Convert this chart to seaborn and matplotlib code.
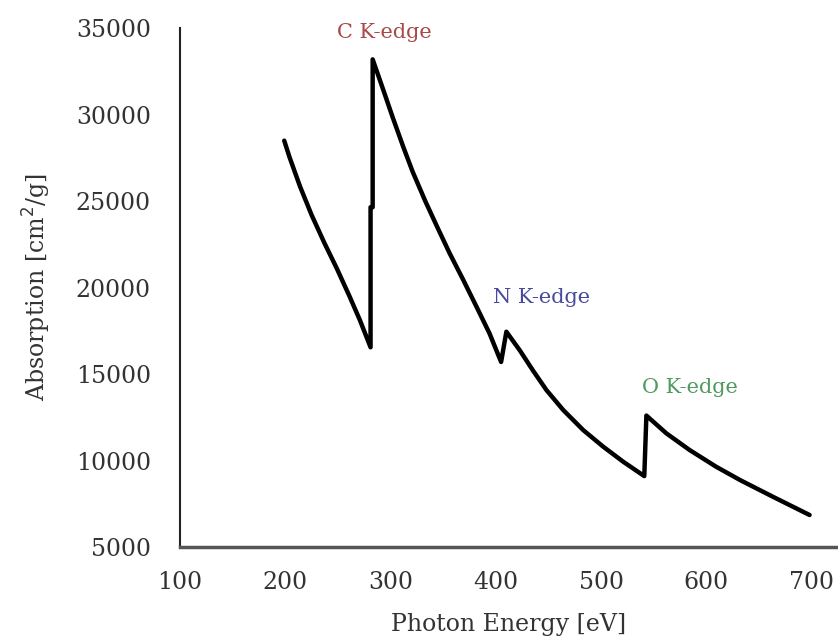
import matplotlib
matplotlib.use("Agg")
import matplotlib.pyplot as plt
import pandas as pd
import seaborn as sns

# values (eV, cm^2/g)
energy = [199, 204, 214, 225, 237, 249, 261, 271, 281,
          281, 283, 283,
          293, 302, 312, 321, 333, 344, 356, 369, 382, 394, 405,
          410, 423, 435, 448, 464, 483, 502, 521, 541,
          543, 562, 584, 609, 632, 663, 698]
absorption = [28500, 27550, 25850, 24200, 22600, 21100, 19500, 18100, 16550,
              24650, 24650, 33200,
              31450, 29850, 28150, 26700, 25000, 23550, 22000, 20450, 18850,
              17350, 15700,
              17450, 16350, 15230, 14080, 12920, 11760, 10800, 9930, 9100,
              12600, 11570, 10610, 9650, 8870, 7910, 6850]

edge_labels = ["C K-edge", "N K-edge", "O K-edge"]
edge_label_x = [294, 443, 584]
edge_label_y = [34750, 19400, 14250]
edge_colors = ["#a84848", "#4a4a9c", "#4f9a5f"]

x_ticks = [100, 200, 300, 400, 500, 600, 700]
y_ticks = [5000, 10000, 15000, 20000, 25000, 30000, 35000]

df = pd.DataFrame({"energy": energy, "absorption": absorption})

sns.set_style("white")
plt.rcParams["font.family"] = ["DejaVu Serif"]

fig = plt.figure(figsize=(8.38, 6.42), dpi=100)
ax = fig.add_axes([0.2148, 0.148, 0.7852, 0.808])

sns.lineplot(data=df, x="energy", y="absorption", estimator=None, sort=False,
             color="black", linewidth=3.2, ax=ax)

for txt, tx, ty, c in zip(edge_labels, edge_label_x, edge_label_y, edge_colors):
    ax.text(tx, ty, txt, color=c, fontsize=15, ha="center", va="center")

ax.set_xlim(100, 725)
ax.set_ylim(5000, 35000)
ax.set_xticks(x_ticks)
ax.set_yticks(y_ticks)
ax.tick_params(axis="x", direction="inout", length=6, width=1.2, labelsize=17, pad=14)
ax.tick_params(axis="y", direction="out", length=5, width=1.2, labelsize=17, pad=16)
ax.tick_params(colors="#333333", labelcolor="#333333")

sns.despine(ax=ax, top=True, right=True)
ax.spines["left"].set_color("#222222")
ax.spines["left"].set_linewidth(1.5)
ax.spines["bottom"].set_color("#555555")
ax.spines["bottom"].set_linewidth(2.5)

ax.set_xlabel("Photon Energy [eV]", fontsize=17, color="#333333", labelpad=14)
ax.set_ylabel("Absorption [cm$^2$/g]", fontsize=17, color="#333333", labelpad=16)

fig.savefig("out.png", dpi=100)
